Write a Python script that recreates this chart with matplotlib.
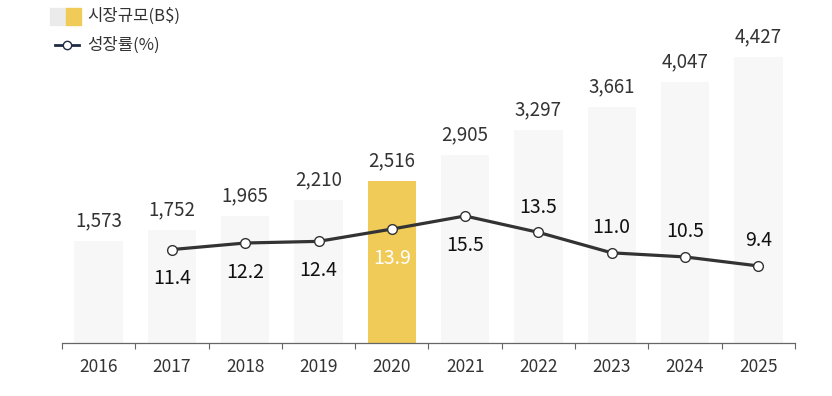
import matplotlib
matplotlib.use("Agg")
import matplotlib.pyplot as plt
from matplotlib.patches import Rectangle
from matplotlib.lines import Line2D

plt.rcParams["font.family"] = ["Noto Sans CJK KR", "DejaVu Sans"]

# =============================
# DATA
# =============================
years = ["2016", "2017", "2018", "2019", "2020", "2021", "2022", "2023", "2024", "2025"]
market_size = [1573, 1752, 1965, 2210, 2516, 2905, 3297, 3661, 4047, 4427]
growth_years = ["2017", "2018", "2019", "2020", "2021", "2022", "2023", "2024", "2025"]
growth_rate = [11.4, 12.2, 12.4, 13.9, 15.5, 13.5, 11.0, 10.5, 9.4]
highlight_year = "2020"

# label below (-1) or above (+1) the line point
growth_label_side = [-1, -1, -1, -1, -1, 1, 1, 1, 1]

BAR_GRAY = "#f7f7f7"
BAR_YELLOW = "#f0cb58"
LINE_COLOR = "#333333"

# =============================
# FIGURE
# =============================
fig = plt.figure(figsize=(8.32, 3.96), dpi=100)
ax = fig.add_axes([0.0745, 0.134, 0.881, 0.815])
ax2 = ax.twinx()

x = list(range(len(years)))
colors = [BAR_YELLOW if y == highlight_year else BAR_GRAY for y in years]
ax.bar(x, market_size, width=0.66, color=colors, zorder=1)

for xi, v in zip(x, market_size):
    ax.annotate(f"{v:,}", (xi, v), xytext=(0, 7), textcoords="offset points",
                ha="center", va="bottom", fontsize=13.5, color="#333333")

ax.set_ylim(0, 5000)
ax.set_xlim(-0.5, len(years) - 0.5)
ax.set_yticks([])
ax.set_xticks(x)
ax.set_xticklabels(years, fontsize=12.5, color="#333333")
ax.set_xticks([i - 0.5 for i in range(len(years) + 1)], minor=True)
ax.tick_params(axis="x", which="major", length=0, pad=11)
ax.tick_params(axis="x", which="minor", length=4, width=0.8, color="#666666", direction="out")
for side in ["left", "right", "top"]:
    ax.spines[side].set_visible(False)
    ax2.spines[side].set_visible(False)
ax.spines["bottom"].set_color("#666666")
ax.spines["bottom"].set_linewidth(0.9)
ax2.spines["bottom"].set_visible(False)

gx = [years.index(y) for y in growth_years]
ax2.plot(gx, growth_rate, color=LINE_COLOR, linewidth=2.3, marker="o",
         markersize=7, markerfacecolor="white", markeredgecolor=LINE_COLOR,
         markeredgewidth=1.0, zorder=3)
ax2.set_ylim(0, 39.4)
ax2.set_yticks([])

for xi, v, side, yr in zip(gx, growth_rate, growth_label_side, growth_years):
    txt_color = "white" if yr == highlight_year else "#111111"
    offset = 21 if side < 0 else 18
    ax2.annotate(f"{v:.1f}", (xi, v), xytext=(0, offset * side), textcoords="offset points",
                 ha="center", va="center", fontsize=14, fontweight="medium", color=txt_color)

ax.set_zorder(ax2.get_zorder() - 1)
ax.patch.set_visible(False)

# =============================
# LEGEND (drawn manually)
# =============================
W, H = 832, 396
fig.patches.append(Rectangle((50 / W, 1 - 25 / H), 15 / W, 17 / H,
                             transform=fig.transFigure, color="#ebebeb"))
fig.patches.append(Rectangle((66 / W, 1 - 25 / H), 15 / W, 17 / H,
                             transform=fig.transFigure, color=BAR_YELLOW))
fig.text(87 / W, 1 - 16 / H, "시장규모(B$)", fontsize=12, va="center", color="#333333")
fig.lines.append(Line2D([55 / W, 79 / W], [1 - 45 / H, 1 - 45 / H], transform=fig.transFigure,
                        color="#1f2a44", linewidth=2))
fig.lines.append(Line2D([67 / W], [1 - 45 / H], transform=fig.transFigure, marker="o",
                        markersize=6, markerfacecolor="white", markeredgecolor="#1f2a44",
                        markeredgewidth=1.0))
fig.text(87 / W, 1 - 45 / H, "성장률(%)", fontsize=12, va="center", color="#333333")

fig.savefig("out.png", dpi=100)
